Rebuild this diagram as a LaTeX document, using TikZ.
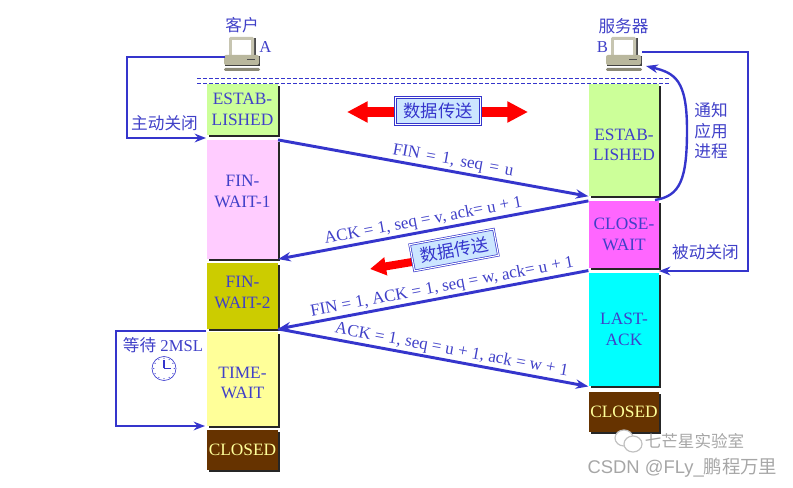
\documentclass[tikz,border=0pt]{standalone}
\usepackage{fontspec}
\setmainfont{Liberation Serif}
\setsansfont{Liberation Sans}
\newfontfamily\cjk{Noto Sans CJK SC}
\usetikzlibrary{positioning, arrows.meta, calc, shadows, backgrounds}
\definecolor{tcpBlue}{HTML}{3535CC}
\definecolor{tcpText}{HTML}{4040C8}
\definecolor{estabGreen}{HTML}{CCFF99}
\definecolor{waitPink}{HTML}{FFCCFF}
\definecolor{waitOlive}{HTML}{CCCC00}
\definecolor{timeYellow}{HTML}{FFFF99}
\definecolor{closedBrown}{HTML}{663300}
\definecolor{closeMagenta}{HTML}{FF66FF}
\definecolor{lastCyan}{HTML}{00FFFF}
\definecolor{sendBlue}{HTML}{CCE6FF}
\definecolor{pcBody}{HTML}{B9B79D}
\definecolor{markGray}{HTML}{A6A6A6}

\begin{document}
\begin{tikzpicture}[x=0.75pt, y=-0.75pt,
            statebox/.style={
              rectangle, inner sep=0pt, minimum width=53pt,
              align=center, text=tcpText,
              font=\fontsize{13}{15.4}\selectfont,
              drop shadow={shadow xshift=1.6pt, shadow yshift=-1.6pt,
                fill=black!85, opacity=1}
            },
            closedbox/.style={
              statebox, fill=closedBrown, text=timeYellow, minimum height=30pt
            },
            link/.style={draw=tcpBlue, line width=2.2pt},
            linkto/.style={link, -{Stealth[length=9.5pt, width=7pt]}},
            side/.style={draw=tcpBlue, line width=1.8pt},
            sideto/.style={side, -{Stealth[length=8.5pt, width=6.5pt]}},
            seglabel/.style={
              sloped, text=tcpText, inner sep=1pt,
              font=\fontsize{12.8}{14}\selectfont
            },
            note/.style={
              text=tcpText, inner sep=0pt, align=center,
              font=\fontsize{12.5}{15.5}\selectfont
            },
            sendbox/.style={
              rectangle, draw=tcpBlue, double=white, double distance=0.8pt,
              line width=0.5pt, fill=sendBlue, text=tcpBlue, inner sep=0pt,
              minimum width=64pt, minimum height=20pt,
              font=\fontsize{13}{15}\selectfont\cjk
            },
            bigarrow/.style={
              draw=red, line width=8pt,
              -{Triangle[length=15.5pt, width=15pt]}
            },
            smallarrow/.style={
              draw=red, line width=6pt,
              -{Triangle[length=12pt, width=13pt]}
            },
            stamp/.style={text=markGray, inner sep=0pt},
            bubble/.style={draw=markGray!70, fill=white, line width=0.9pt},
            computer/.pic={
              % monitor
              \fill[black!70] (-12,-17) rectangle (14,2);
              \fill[pcBody!80!white, rounded corners=1pt] (-13,-18) rectangle (12,1);
              \fill[white] (-10,-15) rectangle (9,0);
              % base
              \fill[black!75] (-17,1) rectangle (18,11);
              \fill[pcBody, rounded corners=1.5pt] (-18,0) rectangle (17,10);
              \draw[black!70, line width=0.6pt] (5,4) -- (13,4);
              \fill[pcBody!75!black, rounded corners=1pt] (-18,13) rectangle (18,16);
            }
          ]
          \useasboundingbox (0,0) rectangle (793,488);

          % client column
          \node[statebox, fill=estabGreen, minimum height=38pt] (cEstab) at (242.5,109.5) {ESTAB-\\LISHED};
          \node[statebox, fill=waitPink, minimum height=89pt] (cFinOne) at (242.5,199.5) {FIN-\\WAIT-1\\[-3.4pt]~};
          \node[statebox, fill=waitOlive, minimum height=49pt] (cFinTwo) at (242.5,296) {FIN-\\WAIT-2\\[-10.2pt]~};
          \node[statebox, fill=timeYellow, minimum height=70.5pt] (cTime) at (242.5,379) {\rule{0pt}{14.6pt}TIME-\\WAIT};
          \node[closedbox] (cClosed) at (242.5,450) {CLOSED};

          % server column
          \node[statebox, fill=estabGreen, minimum height=84pt] (sEstab) at (624,140) {\rule{0pt}{16pt}ESTAB-\\LISHED};
          \node[statebox, fill=closeMagenta, minimum height=50pt] (sClose) at (624,234.5) {CLOSE-\\WAIT};
          \node[statebox, fill=lastCyan, minimum height=85pt] (sLast) at (624,329.5) {LAST-\\ACK};
          \node[closedbox] (sClosed) at (624,412) {CLOSED};

          % hosts
          \pic (pcA) at (242,55) {computer};
          \pic (pcB) at (624,55) {computer};
          \node[note] (clientName) at (242,25) {\cjk 客户};
          \node[note] (serverName) at (623.5,26) {\cjk 服务器};
          \node[note] (nameA) at (265.5,47) {A};
          \node[note] (nameB) at (602.5,47) {B};

          % time origin
          \coordinate (dashL) at (197,78);
          \coordinate (dashR) at (670,78);
          \draw[tcpBlue, line width=0.7pt, dash pattern=on 3pt off 1.5pt] (dashL) -- (dashR);
          \draw[tcpBlue, line width=0.7pt, dash pattern=on 3pt off 1.5pt] ($(dashL)+(0,5)$) -- ($(dashR)+(0,5)$);

          % segments
          \draw[linkto] (cFinOne.north east) -- node[seglabel, above, pos=0.558] {\spaceskip=0.37em FIN = 1, seq = u} (sEstab.south west);
          \draw[linkto] (sClose.north west) -- node[seglabel, above, pos=0.526] {ACK = 1, seq = v, ack= u + 1} (cFinOne.south east);
          \draw[linkto] ($(sLast.north west)+(0,-2)$) -- node[seglabel, above, pos=0.465] {FIN = 1, ACK = 1, seq = w, ack= u + 1} (cFinTwo.south east);
          \draw[linkto] (cFinTwo.south east) -- node[seglabel, above, pos=0.553] {ACK = 1, seq = u + 1, ack = w + 1} (sLast.south west);

          % data transfer
          \node[sendbox] (sendBoth) at (438,111) {数据传送};
          \coordinate (sendL) at (347,112);
          \coordinate (sendR) at (528,112);
          \coordinate (sendTip) at (370,269);
          \coordinate (sendOut) at (412,262);
          \begin{scope}[on background layer]
            \draw[bigarrow] (sendBoth.center |- sendL) -- (sendL);
            \draw[bigarrow] (sendBoth.center |- sendR) -- (sendR);
          \end{scope}
          \draw[smallarrow] (sendOut) -- (sendTip);
          \node[sendbox, rotate=10.5] (sendOne) at (454,250) {数据传送};

          % closing
          \coordinate (pcAout) at (225,57);
          \coordinate (activeIn) at (206,138);
          \coordinate (pcBout) at (642,52);
          \coordinate (passiveIn) at (659,271);
          \draw[sideto] (pcAout) -- (127,57) |- (activeIn);
          \node[note] (activeClose) at (164.5,123) {\cjk 主动关闭};
          \draw[sideto] (pcBout) -- (748,52) |- (passiveIn);
          \node[note] (passiveClose) at (705.5,252) {\cjk 被动关闭};
          \coordinate (notifyStart) at (655,200);
          \coordinate (notifyEnd) at (646,66);
          \draw[side, -{Stealth[length=9pt, width=6.5pt]}] (notifyStart)
            .. controls (680,196) and (687,180) .. (687,130)
            .. controls (687,80) and (675,73) .. (notifyEnd);
          \node[note] (notifyApp) at (711,131) {\cjk 通知\\[-0.2pt]\cjk 应用\\[-0.2pt]\cjk 进程};
          \coordinate (waitOut) at (206,331);
          \coordinate (waitIn) at (205,426);
          \draw[sideto] (waitOut) -- (116,331) |- (waitIn);
          \node[note] (waitTime) at (163,345) {{\cjk 等待} 2MSL};

          % clock
          \coordinate (clockC) at (164,368.5);
          \draw[tcpBlue, line width=0.5pt] (clockC) circle (12);
          \foreach \tick in {0,30,...,330} {
            \fill[tcpBlue] ($(clockC)+(\tick:10.3)$) circle (0.6);
          }
          \draw[tcpBlue, line width=1pt] (clockC) -- +(0,-8);
          \draw[tcpBlue, line width=1pt] (clockC) -- +(6.5,0);

          % watermark
          \draw[bubble] (624,438) ellipse (9 and 8);
          \draw[bubble] (633,444) ellipse (9 and 8);
          \node[stamp, font=\fontsize{12.4}{14}\selectfont\cjk] (markOne) at (694.5,441) {七芒星实验室};
          \node[stamp, font=\fontsize{13.8}{15}\selectfont\sffamily] (markTwo) at (682.5,468) {CSDN @FLy\_{\cjk 鹏程万里}};
        \end{tikzpicture}
\end{document}
